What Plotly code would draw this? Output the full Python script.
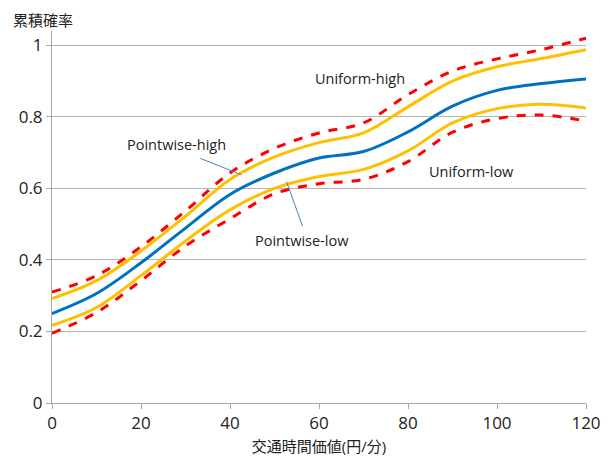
import plotly.graph_objects as go

x_vals = [0, 10, 20, 30, 40, 50, 60, 70, 80, 90, 100, 110, 120]
uniform_high = [0.31, 0.356, 0.437, 0.537, 0.643, 0.712, 0.755, 0.783, 0.862, 0.928, 0.962, 0.988, 1.02]
pointwise_high = [0.292, 0.342, 0.425, 0.522, 0.625, 0.688, 0.728, 0.755, 0.828, 0.9, 0.94, 0.963, 0.988]
mean_curve = [0.25, 0.306, 0.392, 0.489, 0.583, 0.643, 0.685, 0.703, 0.758, 0.83, 0.874, 0.893, 0.906]
pointwise_low = [0.217, 0.267, 0.356, 0.453, 0.54, 0.6, 0.633, 0.653, 0.705, 0.783, 0.823, 0.835, 0.825]
uniform_low = [0.195, 0.253, 0.342, 0.439, 0.515, 0.585, 0.613, 0.625, 0.675, 0.757, 0.795, 0.805, 0.788]

x_ticks = [0, 20, 40, 60, 80, 100, 120]
y_ticks = [0, 0.2, 0.4, 0.6, 0.8, 1.0]
y_tick_labels = ["0", "0.2", "0.4", "0.6", "0.8", "1"]

FONT = "Open Sans, Noto Sans CJK JP, sans-serif"
RED = "#ff0000"
YEL = "#ffc000"
BLUE = "#0070c0"

fig = go.Figure()
fig.add_trace(go.Scatter(x=x_vals, y=uniform_low, mode="lines",
                         line=dict(color=RED, width=3, dash="dash", shape="spline")))
fig.add_trace(go.Scatter(x=x_vals, y=uniform_high, mode="lines",
                         line=dict(color=RED, width=3, dash="dash", shape="spline")))
fig.add_trace(go.Scatter(x=x_vals, y=pointwise_low, mode="lines",
                         line=dict(color=YEL, width=3, shape="spline")))
fig.add_trace(go.Scatter(x=x_vals, y=pointwise_high, mode="lines",
                         line=dict(color=YEL, width=3, shape="spline")))
fig.add_trace(go.Scatter(x=x_vals, y=mean_curve, mode="lines",
                         line=dict(color=BLUE, width=3, shape="spline")))

# pointer lines
fig.add_shape(type="line", x0=33.3, y0=0.684, x1=42.6, y1=0.638,
              line=dict(color="#4f81bd", width=1))
fig.add_shape(type="line", x0=56.3, y0=0.494, x1=52.7, y1=0.619,
              line=dict(color="#4f81bd", width=1))

ann_font = dict(family=FONT, size=14.5, color="#222222")
fig.add_annotation(x=69.2, y=0.906, text="Uniform-high", showarrow=False, font=ann_font)
fig.add_annotation(x=27.9, y=0.722, text="Pointwise-high", showarrow=False, font=ann_font)
fig.add_annotation(x=56.2, y=0.453, text="Pointwise-low", showarrow=False, font=ann_font)
fig.add_annotation(x=94.2, y=0.647, text="Uniform-low", showarrow=False, font=ann_font)

fig.add_annotation(xref="paper", yref="paper", x=-0.077, y=1.03, xanchor="left", yanchor="middle",
                   text="累積確率", showarrow=False,
                   font=dict(family=FONT, size=15, color="#222222"))

fig.update_layout(
    width=605, height=453,
    margin=dict(l=44, r=27, t=23, b=58, autoexpand=False),
    paper_bgcolor="white", plot_bgcolor="white",
    showlegend=False,
    xaxis=dict(range=[0, 120], tickvals=x_ticks, showgrid=False,
               showline=True, linecolor="#a6a6a6", linewidth=1,
               ticks="outside", ticklen=5, tickcolor="#a6a6a6",
               tickfont=dict(family=FONT, size=17, color="#222222"),
               title=dict(text="交通時間価値(円/分)", standoff=8,
                          font=dict(family=FONT, size=15, color="#222222")),
               zeroline=False, automargin=False),
    yaxis=dict(range=[0, 1.04], tickvals=y_ticks, ticktext=y_tick_labels,
               showgrid=True, gridcolor="#b4b4b4", gridwidth=1,
               showline=True, linecolor="#a6a6a6", linewidth=1,
               ticks="outside", ticklen=5, tickcolor="#a6a6a6",
               tickfont=dict(family=FONT, size=17, color="#222222"),
               zeroline=False, automargin=False),
)

fig.write_html("out.html")
